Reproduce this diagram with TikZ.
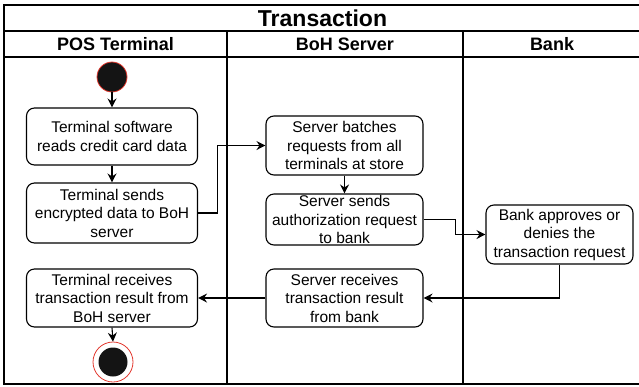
\documentclass[tikz,border=0pt]{standalone}
\usepackage{fontspec}
\setmainfont{Liberation Sans}
\usepackage{tikz}
\usetikzlibrary{arrows.meta,shapes}
\usepackage{xcolor}
\definecolor{umlred}{HTML}{E2392F}

\begin{document}
\begin{tikzpicture}[x=1pt, y=-1pt, line width=1.1pt,
  act node/.style={draw, rounded corners=8pt, align=center, inner sep=0pt, font=\fontsize{15.5}{18.5}\selectfont},
  start node/.style={circle, draw=umlred, line width=0.8pt, fill=black!92, minimum size=30pt, inner sep=0pt},
  end node/.style={circle, draw=umlred, line width=0.8pt, minimum size=40pt, inner sep=0pt,
    path picture={\fill[black!92] (path picture bounding box.center) circle (14.5pt);}},
  head/.style={font=\fontsize{18}{20}\selectfont\bfseries},
  arr/.style={-{Stealth[length=9pt,width=9pt,inset=3pt]}}]
\useasboundingbox (0,0) rectangle (639,386);
% swimlanes
\draw[line width=1.4pt] (641,5) -- (4,5) -- (4,384) -- (641,384);
\draw[line width=1.4pt] (4,31) -- (641,31);
\draw[line width=1.4pt] (4,57) -- (641,57);
\draw[line width=1.4pt] (227,31) -- (227,384);
\draw[line width=1.4pt] (463,31) -- (463,384);
\node[font=\fontsize{23}{25}\selectfont\bfseries] (t) at (322.5,18) {Transaction};
\node[head] (h1) at (115.5,44) {POS Terminal};
\node[head] (h2) at (345,44) {BoH Server};
\node[head] (h3) at (552,44) {Bank};
% activities
\node[start node] (0) at (112,77) {};
\node[act node, minimum width=171pt, minimum height=57pt] (1) at (112,136.5) {Terminal software\\reads credit card data};
\node[act node, minimum width=171pt, minimum height=60pt] (2) at (112,213) {Terminal sends\\encrypted data to BoH\\server};
\node[act node, minimum width=157pt, minimum height=59pt] (3) at (344.5,145.5) {Server batches\\requests from all\\terminals at store};
\node[act node, minimum width=157pt, minimum height=51pt] (4) at (344.5,219.5) {Server sends\\authorization request\\to bank};
\node[act node, minimum width=147pt, minimum height=59pt] (5) at (559.5,234.5) {Bank approves or\\denies the\\transaction request};
\node[act node, minimum width=157pt, minimum height=58pt] (6) at (344.5,298) {Server receives\\transaction result\\from bank};
\node[act node, minimum width=171pt, minimum height=58pt] (7) at (112,298) {Terminal receives\\transaction result from\\BoH server};
\node[end node] (8) at (113,362) {};
\draw[arr] (0) -- (1);
\draw[arr] (1) -- (2);
\draw[arr] (2.east) -- ++(19.5,0) |- (3.west);
\draw[arr] (3) -- (4);
\draw[arr] (4.east) -- ++(32,0) |- (5.west);
\draw[arr] (5.south) |- (6.east);
\draw[arr] (6.west) -- (7.east);
\draw[arr] (7.south) -- (8.north);
\end{tikzpicture}
\end{document}
